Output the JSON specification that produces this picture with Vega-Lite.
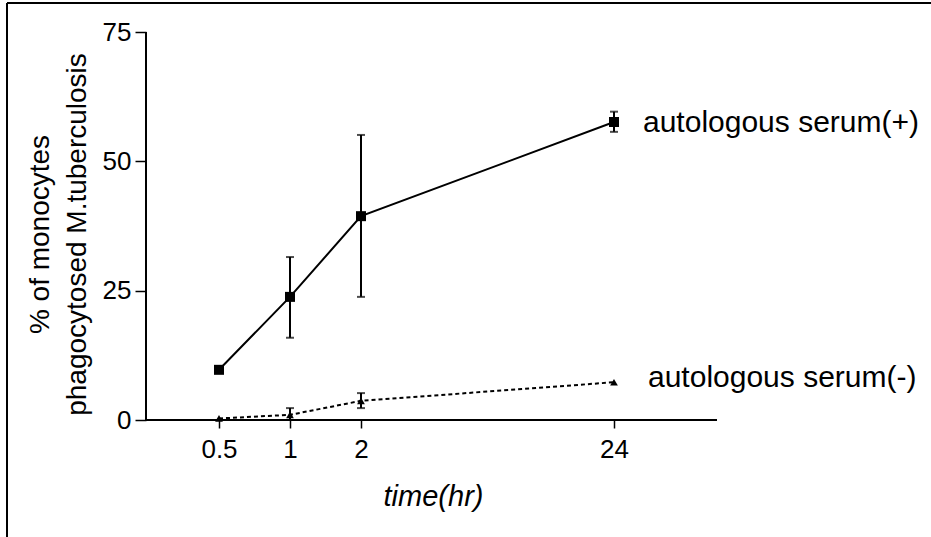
{
  "$schema": "https://vega.github.io/schema/vega-lite/v6.json",
  "width": 924,
  "height": 534,
  "autosize": {"type": "none"},
  "padding": {"left": 7, "top": 3, "right": 0, "bottom": 0},
  "background": "white",
  "config": {"view": {"stroke": null}, "font": "Liberation Sans"},
  "data": {
    "values": [
      {"series": "autologous serum(+)", "t": 0.5, "y": 9.7, "lo": null, "hi": null},
      {"series": "autologous serum(+)", "t": 1, "y": 23.8, "lo": 15.9, "hi": 31.5},
      {"series": "autologous serum(+)", "t": 2, "y": 39.4, "lo": 23.8, "hi": 55.1},
      {"series": "autologous serum(+)", "t": 24, "y": 57.6, "lo": 55.7, "hi": 59.6},
      {"series": "autologous serum(-)", "t": 0.5, "y": 0.3, "lo": null, "hi": null},
      {"series": "autologous serum(-)", "t": 1, "y": 1.0, "lo": 0.0, "hi": 2.3},
      {"series": "autologous serum(-)", "t": 2, "y": 3.7, "lo": 2.3, "hi": 5.2},
      {"series": "autologous serum(-)", "t": 24, "y": 7.3, "lo": null, "hi": null}
    ]
  },
  "encoding": {
    "x": {
      "field": "t",
      "type": "quantitative",
      "scale": {"domain": [-1, 0, 0.5, 1, 2, 24, 30, 40], "range": [0, 139, 212, 283, 354, 607, 710, 924], "nice": false, "zero": false},
      "axis": {
        "title": "time(hr)",
        "values": [0.5, 1, 2, 24],
        "format": ".3~g",
        "offset": -117,
        "domain": false,
        "grid": false,
        "tickSize": 8,
        "tickWidth": 1.5,
        "tickColor": "black",
        "labelFont": "Liberation Sans",
        "labelFontSize": 26,
        "labelColor": "black",
        "labelPadding": 8,
        "labelFlush": false,
        "labelOverlap": false,
        "titleFont": "Liberation Sans",
        "titleFontSize": 29,
        "titleFontStyle": "italic",
        "titleFontWeight": "normal",
        "titleColor": "black",
        "titleX": 426,
        "titleY": 85,
        "titleBaseline": "alphabetic",
        "titleAlign": "center"
      }
    },
    "y": {
      "field": "y",
      "type": "quantitative",
      "scale": {"domain": [-25, 0, 75, 80], "range": [534, 417, 29, 0], "nice": false, "zero": false},
      "axis": {
        "title": ["% of monocytes", "phagocytosed M.tuberculosis"],
        "values": [0, 25, 50, 75],
        "format": ".3~g",
        "offset": -139,
        "domain": false,
        "grid": false,
        "tickSize": 11,
        "tickWidth": 1.5,
        "tickColor": "black",
        "labelFont": "Liberation Sans",
        "labelFontSize": 26,
        "labelColor": "black",
        "labelPadding": 4,
        "titleFont": "Liberation Sans",
        "titleFontSize": 28,
        "titleFontWeight": "normal",
        "titleColor": "black",
        "titleX": -92,
        "titleY": 231,
        "titleAngle": 270,
        "titleBaseline": "bottom",
        "titleAlign": "center",
        "titleLineHeight": 37
      }
    }
  },
  "layer": [
    {
      "transform": [{"filter": "datum.series === 'autologous serum(+)'"}],
      "mark": {"type": "line", "color": "black", "strokeWidth": 2}
    },
    {
      "transform": [{"filter": "datum.series === 'autologous serum(-)'"}],
      "mark": {"type": "line", "color": "black", "strokeWidth": 2, "strokeDash": [4, 3]}
    },
    {
      "mark": {"type": "rule", "color": "black", "strokeWidth": 2},
      "encoding": {"y": {"field": "lo", "type": "quantitative"}, "y2": {"field": "hi"}}
    },
    {
      "mark": {"type": "tick", "orient": "horizontal", "color": "black", "size": 8, "thickness": 2},
      "encoding": {"y": {"field": "lo", "type": "quantitative"}}
    },
    {
      "mark": {"type": "tick", "orient": "horizontal", "color": "black", "size": 8, "thickness": 2},
      "encoding": {"y": {"field": "hi", "type": "quantitative"}}
    },
    {
      "transform": [{"filter": "datum.series === 'autologous serum(+)'"}],
      "mark": {"type": "point", "shape": "square", "filled": true, "color": "black", "size": 100, "opacity": 1}
    },
    {
      "transform": [{"filter": "datum.series === 'autologous serum(-)'"}],
      "mark": {"type": "point", "shape": "triangle-up", "filled": true, "color": "black", "size": 60, "opacity": 1}
    },
    {
      "transform": [{"filter": "datum.series === 'autologous serum(+)' && datum.t === 24"}],
      "mark": {"type": "text", "align": "left", "baseline": "middle", "dx": 29, "dy": 1, "font": "Liberation Sans", "fontSize": 30, "color": "black"},
      "encoding": {"text": {"field": "series"}}
    },
    {
      "transform": [{"filter": "datum.series === 'autologous serum(-)' && datum.t === 24"}],
      "mark": {"type": "text", "align": "left", "baseline": "middle", "dx": 34, "dy": -4, "font": "Liberation Sans", "fontSize": 30, "color": "black"},
      "encoding": {"text": {"field": "series"}}
    },
    {
      "transform": [{"filter": "datum.series === 'autologous serum(+)' && datum.t === 0.5"}],
      "mark": {"type": "rule", "color": "black", "strokeWidth": 2},
      "encoding": {
        "x": {"datum": 0, "type": "quantitative"},
        "x2": {"datum": 30},
        "y": {"datum": 0, "type": "quantitative"}
      }
    },
    {
      "transform": [{"filter": "datum.series === 'autologous serum(+)' && datum.t === 0.5"}],
      "mark": {"type": "rule", "color": "black", "strokeWidth": 2},
      "encoding": {
        "x": {"datum": 0, "type": "quantitative"},
        "y": {"datum": 0, "type": "quantitative"},
        "y2": {"datum": 75}
      }
    },
    {
      "transform": [{"filter": "datum.series === 'autologous serum(+)' && datum.t === 0.5"}],
      "mark": {"type": "rule", "color": "black", "strokeWidth": 2},
      "encoding": {
        "x": {"datum": -1, "type": "quantitative"},
        "y": {"datum": -25, "type": "quantitative"},
        "y2": {"datum": 80}
      }
    },
    {
      "transform": [{"filter": "datum.series === 'autologous serum(+)' && datum.t === 0.5"}],
      "mark": {"type": "rule", "color": "black", "strokeWidth": 2},
      "encoding": {
        "x": {"datum": -1, "type": "quantitative"},
        "x2": {"datum": 40},
        "y": {"datum": 80, "type": "quantitative"}
      }
    }
  ]
}
